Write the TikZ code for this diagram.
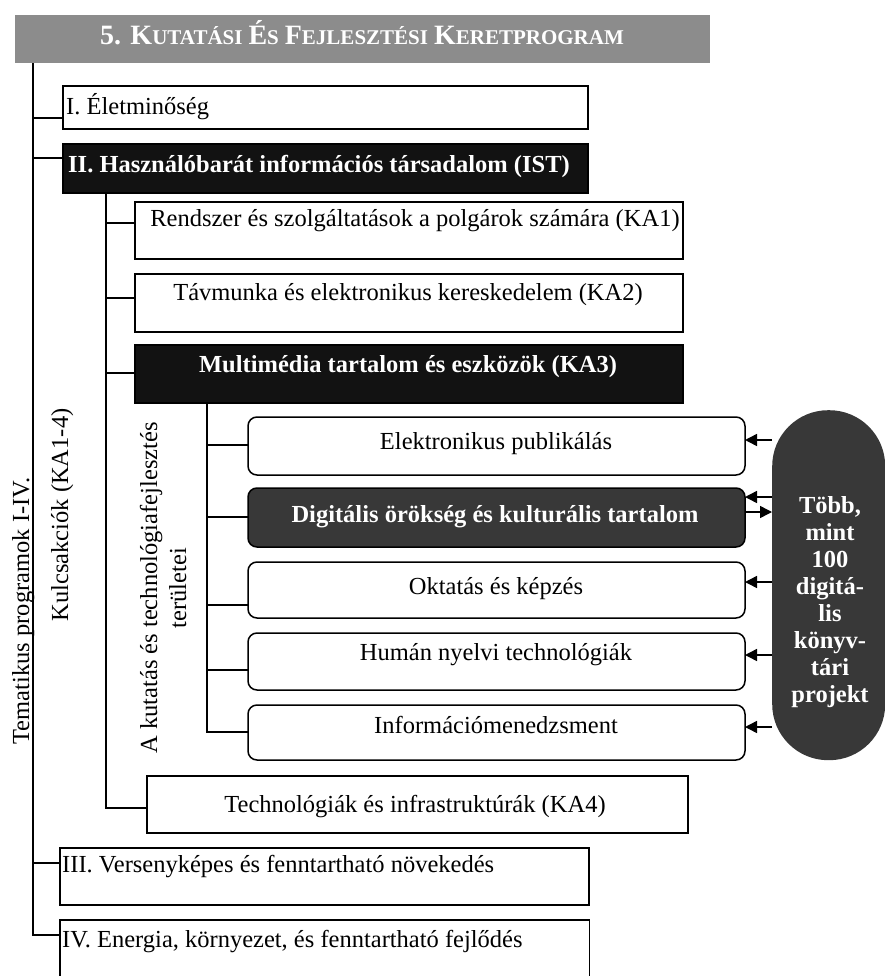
\documentclass[tikz,border=0pt]{standalone}
\usepackage{fontspec}
\setmainfont{Liberation Serif}
\usetikzlibrary{arrows.meta,calc}
\newcommand\bigsc[2]{{\fontsize{28}{30}\selectfont #1}{\fontsize{21}{30}\selectfont #2}}
\newcommand\mkbox[6]{\node[#2,minimum width={#5pt-#3pt},minimum height={#6pt-#4pt}] (#1) at (#3,#4) {};}
\begin{document}
\begin{tikzpicture}[x=1pt,y=-1pt,
  ln/.style={line width=1.5pt},
  box/.style={draw=black,line width=1.5pt,fill=white,anchor=north west,inner sep=0pt,outer sep=0pt},
  darkbox/.style={box,fill=black!93},
  rbox/.style={box,rounded corners=9pt},
  greybox/.style={rbox,fill=black!78},
  txt/.style={font=\fontsize{24.5}{29}\selectfont,inner sep=0pt},
  btxt/.style={font=\fontsize{24.5}{27}\selectfont\bfseries,text=white,inner sep=0pt},
  arr/.style={line width=1.5pt,-{Triangle[length=12pt,width=12pt]}}
]
\useasboundingbox (0,0) rectangle (885,976);

% title bar
\node[anchor=north west,fill=black!45,minimum width=695pt,minimum height=48pt,inner sep=0pt] (title) at (15,15) {};
\node[font=\fontsize{24}{30}\selectfont\bfseries,text=white,anchor=base,inner sep=0pt] (ttitle) at (362,45)
  {\bigsc{5. K}{UTATÁSI} \bigsc{É}{S} \bigsc{F}{EJLESZTÉSI} \bigsc{K}{ERETPROGRAM}};

% boxes
\mkbox{I}{box}{63}{86}{588}{129}
\mkbox{II}{darkbox}{63}{144}{588}{193}
\mkbox{KA1}{box}{135}{202}{683}{259}
\mkbox{KA2}{box}{135}{274}{683}{332}
\mkbox{KA3}{darkbox}{135}{345}{683}{403}
\mkbox{E1}{rbox}{248}{417}{745}{475}
\mkbox{E2}{greybox}{248}{488}{745}{547}
\mkbox{E3}{rbox}{248}{562}{745}{618}
\mkbox{E4}{rbox}{248}{633}{745}{690}
\mkbox{E5}{rbox}{248}{705}{745}{760}
\mkbox{KA4}{box}{147}{776}{688}{833}
\mkbox{III}{box}{60}{848}{589}{905}
\node[anchor=north west,minimum width=529pt,minimum height=60pt,inner sep=0pt] (IV) at (60,920) {};
\draw[ln] (IV.south west) -- (IV.north west) -- (IV.north east) -- (IV.south east);

% pill
\node[anchor=north west,fill=black!78,minimum width=113pt,minimum height=350pt,rounded corners=56pt,inner sep=0pt] (pill) at (772,410) {};
\node[btxt,align=center,anchor=center] (tpill) at (830,602)
  {Több,\\mint\\100\\digitá-\\lis\\könyv-\\tári\\projekt};

% texts
\node[txt,anchor=base west] (tI) at (66,115) {I. Életminőség};
\node[btxt,anchor=base west] (tII) at (68,173) {II. Használóbarát információs társadalom (IST)};
\node[txt,anchor=base] (tKA1) at (415,227) {Rendszer és szolgáltatások a polgárok számára (KA1)};
\node[txt,anchor=base] (tKA2) at (408,300) {Távmunka és elektronikus kereskedelem (KA2)};
\node[btxt,anchor=base] (tKA3) at (408,372) {Multimédia tartalom és eszközök (KA3)};
\node[txt,anchor=base] (tE1) at (496,449) {Elektronikus publikálás};
\node[btxt,anchor=base] (tE2) at (495,522) {Digitális örökség és kulturális tartalom};
\node[txt,anchor=base] (tE3) at (496,594) {Oktatás és képzés};
\node[txt,anchor=base] (tE4) at (496,660) {Humán nyelvi technológiák};
\node[txt,anchor=base] (tE5) at (496,733) {Információmenedzsment};
\node[txt,anchor=base] (tKA4) at (415,812) {Technológiák és infrastruktúrák (KA4)};
\node[txt,anchor=base west] (tIII) at (62,872) {III. Versenyképes és fenntartható növekedés};
\node[txt,anchor=base west] (tIV) at (62,947) {IV. Energia, környezet, és fenntartható fejlődés};

% vertical labels
\node[txt,rotate=90,anchor=base] (vT) at (29,611) {Tematikus programok I-IV.};
\node[txt,rotate=90,anchor=base] (vK) at (68,515) {Kulcsakciók (KA1-4)};
\node[txt,rotate=90,align=center,anchor=center] (vA) at (163,588) {A kutatás és technológiafejlesztés\\területei};

% connection points on box edges
\coordinate (cI) at (I.west |- 0,118);
\coordinate (cII) at (II.west |- 0,158);
\coordinate (cIII) at (III.west |- 0,863);
\coordinate (cIV) at (IV.west |- 0,935);
\coordinate (cKA1) at (KA1.west |- 0,223);
\coordinate (cKA2) at (KA2.west |- 0,298);
\coordinate (cKA3) at (KA3.west |- 0,373);
\coordinate (cKA4) at (KA4.west |- 0,808);
\coordinate (cE1) at (E1.west |- 0,445);
\coordinate (cE2) at (E2.west |- 0,517);
\coordinate (cE3) at (E3.west |- 0,605);
\coordinate (cE4) at (E4.west |- 0,670);
\coordinate (cE5) at (E5.west |- 0,732);
\coordinate (m0) at (title.south -| 33,0);
\coordinate (k0) at (II.south -| 106,0);
\coordinate (r0) at (KA3.south -| 207,0);

% trunks
\draw[ln] (m0) -- (m0 |- cIV) -- (cIV);
\draw[ln] (m0 |- cI) -- (cI);
\draw[ln] (m0 |- cII) -- (cII);
\draw[ln] (m0 |- cIII) -- (cIII);
\draw[ln] (k0) -- (k0 |- cKA4) -- (cKA4);
\draw[ln] (k0 |- cKA1) -- (cKA1);
\draw[ln] (k0 |- cKA2) -- (cKA2);
\draw[ln] (k0 |- cKA3) -- (cKA3);
\draw[ln] (r0) -- (r0 |- cE5) -- (cE5);
\draw[ln] (r0 |- cE1) -- (cE1);
\draw[ln] (r0 |- cE2) -- (cE2);
\draw[ln] (r0 |- cE3) -- (cE3);
\draw[ln] (r0 |- cE4) -- (cE4);

% arrows from the pill
\draw[arr] (pill.west |- 0,440) -- (E1.east |- 0,440);
\draw[arr] (pill.west |- 0,497) -- (E2.east |- 0,497);
\draw[arr] (E2.east |- 0,512) -- (pill.west |- 0,512);
\draw[arr] (pill.west |- 0,582) -- (E3.east |- 0,582);
\draw[arr] (pill.west |- 0,655) -- (E4.east |- 0,655);
\draw[arr] (pill.west |- 0,727) -- (E5.east |- 0,727);
\end{tikzpicture}
\end{document}
